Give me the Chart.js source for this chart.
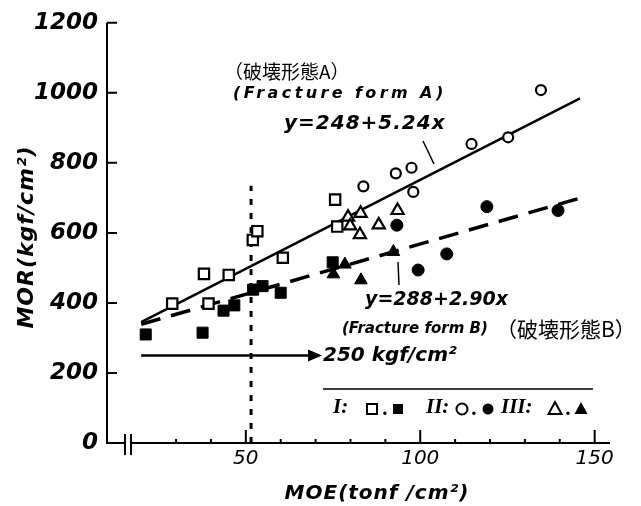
<!DOCTYPE html>
<html>
<head>
<meta charset="utf-8">
<script src="https://cdn.jsdelivr.net/npm/chart.js@4.4.1/dist/chart.umd.min.js"></script>
<style>html,body{margin:0;padding:0;background:#fff}</style>
</head>
<body>
<canvas id="chart" width="641" height="506"></canvas>
<script>
// tick values
const yTicks = [0, 200, 400, 600, 800, 1000, 1200];
const xLabels = [50, 100, 150];
const xMinor = [30, 40, 60, 70, 80, 90, 110, 120, 130, 140];

// I : squares (open = fracture form A, filled = fracture form B)
const sqOpenX = [28.9, 39.3, 38.0, 45.1, 52.0, 53.3, 60.6, 75.6, 76.2];
const sqOpenY = [398, 398, 483, 480, 580, 605, 529, 695, 618];
const sqFillX = [21.3, 37.6, 43.6, 46.7, 52.1, 54.8, 60.0, 74.9];
const sqFillY = [310, 315, 378, 393, 438, 448, 429, 516];

// II : circles
const ciOpenX = [83.7, 93.0, 97.5, 98.0, 114.7, 125.2, 134.6];
const ciOpenY = [733, 770, 786, 717, 854, 873, 1008];
const ciFillX = [93.3, 99.4, 107.6, 119.1, 139.5];
const ciFillY = [622, 494, 540, 675, 664];

// III : triangles
const trOpenX = [79.3, 79.9, 82.9, 82.7, 88.1, 93.5];
const trOpenY = [645, 620, 656, 595, 623, 664];
const trFillX = [75.1, 78.4, 83.0, 92.3];
const trFillY = [482, 510, 465, 546];

// regression lines, as drawn
const lineAX = [20.0, 145.8];
const lineAY = [345, 984];
const lineBX = [20.0, 148.1];
const lineBY = [339, 706];

// MOE = 50 limit and 250 kgf/cm2 arrow
const limitX = [51.5, 51.5];
const limitY = [0, 735];
const arrowX = [20.0, 70.7];
const arrowY = [250, 250];

const pts = (xs, ys) => xs.map((x, i) => ({ x: x, y: ys[i] }));

const markerSet = (xs, ys, style, filled, r) => ({
  data: pts(xs, ys),
  pointStyle: style,
  pointRadius: r,
  pointHoverRadius: r,
  pointBackgroundColor: filled ? '#000' : '#fff',
  pointBorderColor: '#000',
  pointBorderWidth: filled ? 1 : 2.2,
  showLine: false
});

const lineSet = (xs, ys, width, dash) => ({
  data: pts(xs, ys),
  showLine: true,
  borderColor: '#000',
  borderWidth: width,
  borderDash: dash,
  pointRadius: 0,
  pointHoverRadius: 0,
  fill: false
});

const EN = '"DejaVu Sans", sans-serif';

function txt(ctx, s, x, y, font, align, spacing) {
  ctx.font = font;
  ctx.textAlign = align || 'left';
  ctx.textBaseline = 'middle';
  ctx.letterSpacing = spacing || '0px';
  ctx.fillText(s, x, y);
  ctx.letterSpacing = '0px';
}

function sym(ctx, kind, filled, x, y) {
  ctx.beginPath();
  if (kind === 'sq') ctx.rect(x - 5, y - 5, 10, 10);
  else if (kind === 'ci') ctx.arc(x, y, 5.5, 0, Math.PI * 2);
  else { ctx.moveTo(x, y - 7); ctx.lineTo(x + 6.5, y + 5); ctx.lineTo(x - 6.5, y + 5); ctx.closePath(); }
  if (filled) ctx.fill(); else { ctx.lineWidth = 2; ctx.stroke(); }
}

const decor = {
  id: 'decor',
  afterDraw(chart) {
    const ctx = chart.ctx, xs = chart.scales.x, ys = chart.scales.y, a = chart.chartArea;
    ctx.save();
    ctx.strokeStyle = '#000';
    ctx.fillStyle = '#000';
    ctx.lineWidth = 2;
    ctx.lineCap = 'butt';

    // axes with break
    ctx.beginPath();
    ctx.moveTo(a.left, ys.getPixelForValue(1200));
    ctx.lineTo(a.left, a.bottom);
    ctx.lineTo(a.left + 18, a.bottom);
    ctx.moveTo(a.left + 24, a.bottom);
    ctx.lineTo(a.right, a.bottom);
    ctx.moveTo(a.left + 18, a.bottom - 9);
    ctx.lineTo(a.left + 18, a.bottom + 12);
    ctx.moveTo(a.left + 24, a.bottom - 9);
    ctx.lineTo(a.left + 24, a.bottom + 12);
    yTicks.forEach(v => {
      if (v === 0) return;
      const py = ys.getPixelForValue(v);
      ctx.moveTo(a.left, py);
      ctx.lineTo(a.left + 10, py);
    });
    xLabels.forEach(v => {
      const px = xs.getPixelForValue(v);
      ctx.moveTo(px, a.bottom);
      ctx.lineTo(px, a.bottom - 13);
    });
    xMinor.forEach(v => {
      const px = xs.getPixelForValue(v);
      ctx.moveTo(px, a.bottom);
      ctx.lineTo(px, a.bottom - 4);
    });
    ctx.stroke();

    // arrowhead at 250 kgf/cm2
    const ax = xs.getPixelForValue(arrowX[1]), ay = ys.getPixelForValue(arrowY[1]);
    ctx.beginPath();
    ctx.moveTo(ax + 4, ay);
    ctx.lineTo(ax - 10, ay - 6);
    ctx.lineTo(ax - 10, ay + 6);
    ctx.closePath();
    ctx.fill();

    // leader lines to equations
    ctx.lineWidth = 1.5;
    ctx.beginPath();
    ctx.moveTo(423, 141); ctx.lineTo(434, 164);
    ctx.moveTo(398, 262); ctx.lineTo(399, 285);
    // legend rule
    ctx.moveTo(323, 389); ctx.lineTo(593, 389);
    ctx.stroke();

    // axis titles
    ctx.save();
    ctx.translate(27, 237);
    ctx.rotate(-Math.PI / 2);
    txt(ctx, 'MOR(kgf/cm²)', 0, 0, 'oblique bold 22px ' + EN, 'center', '1px');
    ctx.restore();
    txt(ctx, 'MOE(tonf /cm²)', 377, 494, 'oblique bold 20px ' + EN, 'center', '1px');

    // annotations
    txt(ctx, '（破壊形態A）', 224, 72, '19px "Noto Sans CJK JP"', 'left');
    txt(ctx, '(Fracture form A)', 233, 94, 'oblique bold 16px ' + EN, 'left', '3.4px');
    txt(ctx, 'y=248+5.24x', 284, 124, 'oblique bold 20px ' + EN, 'left', '1px');
    txt(ctx, 'y=288+2.90x', 365, 300, 'oblique bold 19px ' + EN, 'left');
    txt(ctx, '(Fracture form B)', 342, 329, 'oblique bold 15px ' + EN, 'left');
    txt(ctx, '（破壊形態B）', 496, 329, '21px "Noto Sans CJK JP"', 'left');
    txt(ctx, '250 kgf/cm²', 323, 356, 'oblique bold 20px ' + EN, 'left');

    // symbol key
    const RN = 'italic bold 21px "Liberation Serif", serif';
    txt(ctx, 'I:', 333, 408, RN, 'left');
    sym(ctx, 'sq', false, 372, 409);
    txt(ctx, '.', 383, 410, RN, 'left');
    sym(ctx, 'sq', true, 398, 409);
    txt(ctx, 'II:', 426, 408, RN, 'left');
    sym(ctx, 'ci', false, 462, 409);
    txt(ctx, '.', 472, 410, RN, 'left');
    sym(ctx, 'ci', true, 488, 409);
    txt(ctx, 'III:', 501, 408, RN, 'left');
    sym(ctx, 'tr', false, 555, 409);
    txt(ctx, '.', 566, 410, RN, 'left');
    sym(ctx, 'tr', true, 581, 409);

    ctx.restore();
  }
};

new Chart(document.getElementById('chart').getContext('2d'), {
  type: 'scatter',
  data: {
    datasets: [
      markerSet(sqOpenX, sqOpenY, 'rect', false, 7.3),
      markerSet(sqFillX, sqFillY, 'rect', true, 7.8),
      markerSet(ciOpenX, ciOpenY, 'circle', false, 5),
      markerSet(ciFillX, ciFillY, 'circle', true, 6),
      markerSet(trOpenX, trOpenY, 'triangle', false, 7),
      markerSet(trFillX, trFillY, 'triangle', true, 7.3),
      lineSet(lineAX, lineAY, 2.5, []),
      lineSet(lineBX, lineBY, 3.5, [20, 11]),
      lineSet(limitX, limitY, 3, [6, 8]),
      lineSet(arrowX, arrowY, 2.5, [])
    ]
  },
  options: {
    responsive: false,
    animation: false,
    events: [],
    layout: { padding: { top: 15, right: 31, left: 0, bottom: 0 } },
    plugins: { legend: { display: false }, tooltip: { enabled: false } },
    scales: {
      x: {
        type: 'linear',
        min: 10.2,
        max: 154.4,
        grid: { display: false, drawTicks: false },
        border: { display: false },
        afterBuildTicks: s => { s.ticks = xLabels.map(v => ({ value: v })); },
        afterFit: s => { s.height = 63; },
        ticks: {
          padding: 4,
          color: '#000',
          font: { family: 'DejaVu Sans', size: 20, style: 'oblique' },
          callback: v => String(v)
        }
      },
      y: {
        type: 'linear',
        min: 0,
        max: 1200,
        grid: { display: false, drawTicks: false },
        border: { display: false },
        afterBuildTicks: s => { s.ticks = yTicks.map(v => ({ value: v })); },
        afterFit: s => { s.width = 107; },
        ticks: {
          padding: 9,
          color: '#000',
          font: { family: 'DejaVu Sans', size: 23, style: 'oblique', weight: 'bold' },
          callback: v => String(v)
        }
      }
    }
  },
  plugins: [decor]
});
</script>
</body>
</html>
